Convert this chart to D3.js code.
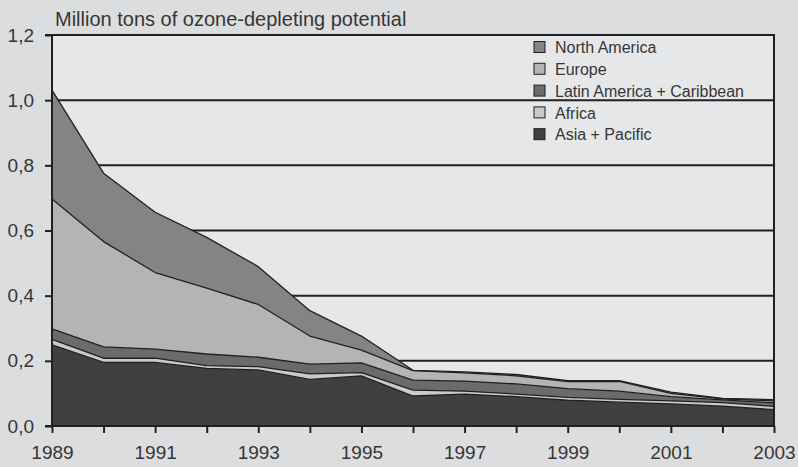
<!DOCTYPE html>
<html>
<head>
<meta charset="utf-8">
<script src="https://cdn.jsdelivr.net/npm/d3@7"></script>
<style>
  body { margin: 0; background: #dcdddf; }
  svg { display: block; font-family: 'Liberation Sans', Arial, sans-serif; }
</style>
</head>
<body>
<script>
const years = [1989, 1990, 1991, 1992, 1993, 1994, 1995, 1996, 1997, 1998, 1999, 2000, 2001, 2002, 2003];
const yearLabels = [1989, 1991, 1993, 1995, 1997, 1999, 2001, 2003];
const yTicks = [0, 0.2, 0.4, 0.6, 0.8, 1.0, 1.2];

// stacking order: bottom to top
const seriesNames = ['Asia + Pacific', 'Africa', 'Latin America + Caribbean', 'Europe', 'North America'];
const asiaPacific = [0.249, 0.195, 0.195, 0.177, 0.172, 0.143, 0.154, 0.092, 0.098, 0.090, 0.079, 0.073, 0.068, 0.061, 0.050];
const africa = [0.017, 0.013, 0.013, 0.008, 0.010, 0.017, 0.010, 0.018, 0.009, 0.008, 0.009, 0.009, 0.009, 0.011, 0.010];
const latinAmerica = [0.032, 0.035, 0.028, 0.036, 0.029, 0.030, 0.030, 0.031, 0.031, 0.031, 0.027, 0.025, 0.013, 0.008, 0.011];
const europe = [0.399, 0.323, 0.235, 0.202, 0.162, 0.086, 0.039, 0.029, 0.025, 0.025, 0.021, 0.030, 0.010, 0.003, 0.006];
const northAmerica = [0.334, 0.210, 0.185, 0.156, 0.116, 0.078, 0.043, 0.001, 0.003, 0.004, 0.003, 0.002, 0.004, 0.002, 0.004];

const colors = ['#404040', '#c9cacc', '#6a6b6d', '#b3b4b6', '#838486'];
const lineColor = '#231f20';
const textColor = '#363636';

const width = 798;
const height = 467;
const margin = { top: 35, right: 24, bottom: 41, left: 52 };

const rows = years.map((yr, i) => ({
  year: yr,
  'Asia + Pacific': asiaPacific[i],
  'Africa': africa[i],
  'Latin America + Caribbean': latinAmerica[i],
  'Europe': europe[i],
  'North America': northAmerica[i]
}));

const stacked = d3.stack().keys(seriesNames)(rows);

const x = d3.scaleLinear()
  .domain([1989, 2003])
  .range([margin.left, width - margin.right]);
const y = d3.scaleLinear()
  .domain([0, 1.2])
  .range([height - margin.bottom, margin.top]);

const svg = d3.select('body')
  .append('svg')
  .attr('width', width)
  .attr('height', height);

svg.append('rect')
  .attr('width', width)
  .attr('height', height)
  .attr('fill', '#dcdddf');

// plot background
svg.append('rect')
  .attr('x', x(1989))
  .attr('y', y(1.2))
  .attr('width', x(2003) - x(1989))
  .attr('height', y(0) - y(1.2))
  .attr('fill', '#e6e7e9');

// Gridlines (behind the areas)
svg.append('g')
  .selectAll('line')
  .data(yTicks.filter(t => t > 0))
  .enter()
  .append('line')
  .attr('x1', x(1989))
  .attr('x2', x(2003))
  .attr('y1', d => y(d))
  .attr('y2', d => y(d))
  .attr('stroke', lineColor)
  .attr('stroke-width', 2);

// Areas
const area = d3.area()
  .x(d => x(d.data.year))
  .y0(d => y(d[0]))
  .y1(d => y(d[1]));

svg.append('g')
  .selectAll('path')
  .data(stacked)
  .enter()
  .append('path')
  .attr('d', area)
  .attr('fill', (d, i) => colors[i]);

// top edge of each band
const topLine = d3.line()
  .x(d => x(d.data.year))
  .y(d => y(d[1]));

svg.append('g')
  .selectAll('path')
  .data(stacked)
  .enter()
  .append('path')
  .attr('d', topLine)
  .attr('fill', 'none')
  .attr('stroke', lineColor)
  .attr('stroke-width', 1.3)
  .attr('stroke-linejoin', 'round');

// right frame line
svg.append('line')
  .attr('x1', x(2003))
  .attr('x2', x(2003))
  .attr('y1', y(1.2))
  .attr('y2', y(0))
  .attr('stroke', lineColor)
  .attr('stroke-width', 2);

// Axes
const yAxis = d3.axisLeft(y)
  .tickValues(yTicks)
  .tickSize(7)
  .tickPadding(11)
  .tickFormat(d => d3.format('.1f')(d).replace('.', ','));

const yG = svg.append('g')
  .attr('transform', `translate(${x(1989)},0)`)
  .call(yAxis);
yG.select('.domain').remove();

const xAxis = d3.axisBottom(x)
  .tickValues(years)
  .tickSize(7)
  .tickPadding(13)
  .tickFormat(d => (yearLabels.includes(d) ? d : ''));

const xG = svg.append('g')
  .attr('transform', `translate(0,${y(0)})`)
  .call(xAxis);
xG.select('.domain').remove();

[yG, xG].forEach(g => {
  g.selectAll('line').attr('stroke', lineColor).attr('stroke-width', 2);
  g.selectAll('text')
    .attr('fill', textColor)
    .style('font-size', '19px')
    .style('font-family', "'Liberation Sans', Arial, sans-serif");
});

// axis lines
svg.append('line')
  .attr('x1', x(1989))
  .attr('x2', x(1989))
  .attr('y1', y(1.2))
  .attr('y2', y(0))
  .attr('stroke', lineColor)
  .attr('stroke-width', 2);
svg.append('line')
  .attr('x1', x(1989) - 7)
  .attr('x2', x(2003) + 1)
  .attr('y1', y(0))
  .attr('y2', y(0))
  .attr('stroke', lineColor)
  .attr('stroke-width', 2);
svg.append('line')
  .attr('x1', x(1989) - 7)
  .attr('x2', x(2003) + 1)
  .attr('y1', y(1.2))
  .attr('y2', y(1.2))
  .attr('stroke', lineColor)
  .attr('stroke-width', 2);

// Title
svg.append('text')
  .attr('x', 55)
  .attr('y', 26)
  .attr('fill', textColor)
  .style('font-size', '20px')
  .text('Million tons of ozone-depleting potential');

// Legend (top to bottom: reversed stack order)
const legendItems = seriesNames.map((n, i) => ({ name: n, color: colors[i] })).reverse();

const legend = svg.append('g')
  .selectAll('g')
  .data(legendItems)
  .enter()
  .append('g')
  .attr('transform', (d, i) => `translate(534,${47.5 + i * 21.8})`);

legend.append('rect')
  .attr('x', 0)
  .attr('y', -6)
  .attr('width', 11)
  .attr('height', 11)
  .attr('fill', d => d.color)
  .attr('stroke', lineColor)
  .attr('stroke-width', 1);

legend.append('text')
  .attr('x', 21)
  .attr('y', 0)
  .attr('dy', '0.35em')
  .attr('fill', textColor)
  .style('font-size', '16px')
  .text(d => d.name);
</script>
</body>
</html>
